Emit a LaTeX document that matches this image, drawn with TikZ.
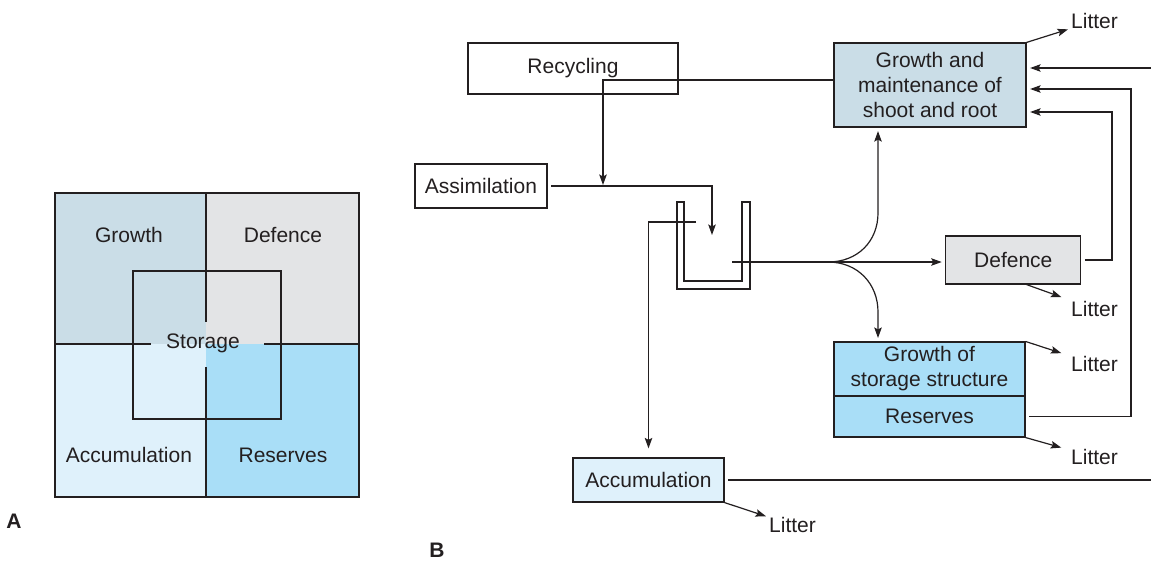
\documentclass[tikz,border=0pt]{standalone}
\usepackage{fontspec}
\setmainfont{Liberation Sans}
\usetikzlibrary{arrows.meta}
\definecolor{growthblue}{HTML}{CADDE7}
\definecolor{defgray}{HTML}{E3E4E6}
\definecolor{accublue}{HTML}{DFF1FB}
\definecolor{resblue}{HTML}{A9DEF7}
\definecolor{ink}{HTML}{231F20}

\begin{document}
\begin{tikzpicture}[
    x=1pt, y=-1pt,
    every node/.style={font=\fontsize{21}{25}\selectfont, text=ink},
    box/.style={draw=ink, line width=1.2pt, align=center, inner sep=0pt},
    wire/.style={draw=ink, line width=1.2pt},
    arr/.style={wire, -{Stealth[length=10.5pt, width=7.5pt, inset=2pt]}},
    frombox/.style={shorten <=3.5pt},
    tobox/.style={shorten >=3.5pt},
    tolitter/.style={shorten >=7pt},
    litter/.style={anchor=west, inner sep=3pt},
    panel/.style={font=\fontsize{21}{25}\selectfont\bfseries, inner sep=0pt}
    ]
    \useasboundingbox (0,0) rectangle (1151,560);

    \fill[growthblue] (55,193) rectangle (206,344);
    \fill[defgray] (206,193) rectangle (359,344);
    \fill[accublue] (55,344) rectangle (206,497);
    \fill[resblue] (206,344) rectangle (359,497);
    \draw[wire] (55,193) rectangle (359,497);
    \draw[wire] (133,271) rectangle (281,419);
    \draw[wire] (55,344) -- (151,344) (264,344) -- (359,344);
    \draw[wire] (206,193) -- (206,322) (206,367) -- (206,497);
    \node (qgrowth) at (129,235) {Growth};
    \node (qdefence) at (283,235) {Defence};
    \node (qaccu) at (129,455) {Accumulation};
    \node (qres) at (283,455) {Reserves};
    \node (qstorage) at (203,343) {Storage};
    \node[panel] (labA) at (14,521) {A};
    \node[panel] (labB) at (437,550) {B};

    \node[box, minimum width=210pt, minimum height=51pt] (recyc) at (573,68.5) {Recycling};
    \node[box, minimum width=132pt, minimum height=44pt] (assim) at (481,186) {Assimilation};
    \node[box, fill=growthblue, minimum width=192pt, minimum height=84pt] (grow) at (930,85)
      {Growth and\\maintenance of\\shoot and root};
    \node[box, fill=defgray, minimum width=135pt, minimum height=48pt] (def) at (1013.3,260) {Defence};
    \node[box, fill=resblue, minimum width=191pt, minimum height=53.3pt] (store) at (929.5,368.7)
      {Growth of\\storage structure};
    \node[box, fill=resblue, minimum width=191pt, minimum height=40.4pt, anchor=north] (res) at (store.south) {Reserves};
    \node[box, fill=accublue, minimum width=151pt, minimum height=44pt] (accu) at (648.5,480) {Accumulation};

    \node[litter] (lit1) at (1068,21) {Litter};
    \node[litter] (lit2) at (1068,309) {Litter};
    \node[litter] (lit3) at (1068,364) {Litter};
    \node[litter] (lit4) at (1068,457) {Litter};
    \node[litter] (lit5) at (766,525) {Litter};

    \draw[wire] (677,202) -- (677,289) -- (750,289) -- (750,202) -- (742,202) -- (742,281)
      -- (684,281) -- (684,202) -- cycle;

    \coordinate (join) at (603,185);
    \coordinate (vtop) at (712,235);
    \coordinate (vin) at (696,222);
    \coordinate (vout) at (732,262);
    \coordinate (split) at (828,262);
    \coordinate (upturn) at (878,213);
    \coordinate (downturn) at (878,312);
    \coordinate (riserA) at (1112,112);
    \coordinate (riserB) at (1131,89);
    \coordinate (edgeT) at (1151,68);
    \coordinate (edgeB) at (1151,481);

    \draw[arr] ([yshift=5pt]grow.west) -| (join);
    \draw[arr, frombox] (assim.east) -| (vtop);
    \draw[arr, shorten >=9pt] (vin) -| (accu.north);
    \draw[arr, tobox] (vout) -- (vout -| def.west);
    \draw[arr, tobox] (split) .. controls +(30,0) and +(0,28) .. (upturn) -- (upturn |- grow.south);
    \draw[arr, tobox] (split) .. controls +(30,0) and +(0,-28) .. (downturn) -- (downturn |- store.north);
    \draw[arr, frombox, tobox] (def.east) -| (riserA) -- (riserA -| grow.east);
    \draw[arr, frombox, tobox] (res.east) -| (riserB) -- (riserB -| grow.east);
    \draw[arr, tobox] (edgeT) -- (edgeT -| grow.east);
    \draw[wire, frombox] (accu.east) -- (accu.east -| edgeB);

    \draw[arr] (grow.north east) -- (lit1);
    \draw[arr, tolitter] (def.south -| grow.east) -- (lit2);
    \draw[arr, tolitter] (store.north east) -- (lit3);
    \draw[arr, tolitter] (res.south east) -- (lit4);
    \draw[arr] (accu.south east) -- (lit5);
  \end{tikzpicture}
\end{document}
